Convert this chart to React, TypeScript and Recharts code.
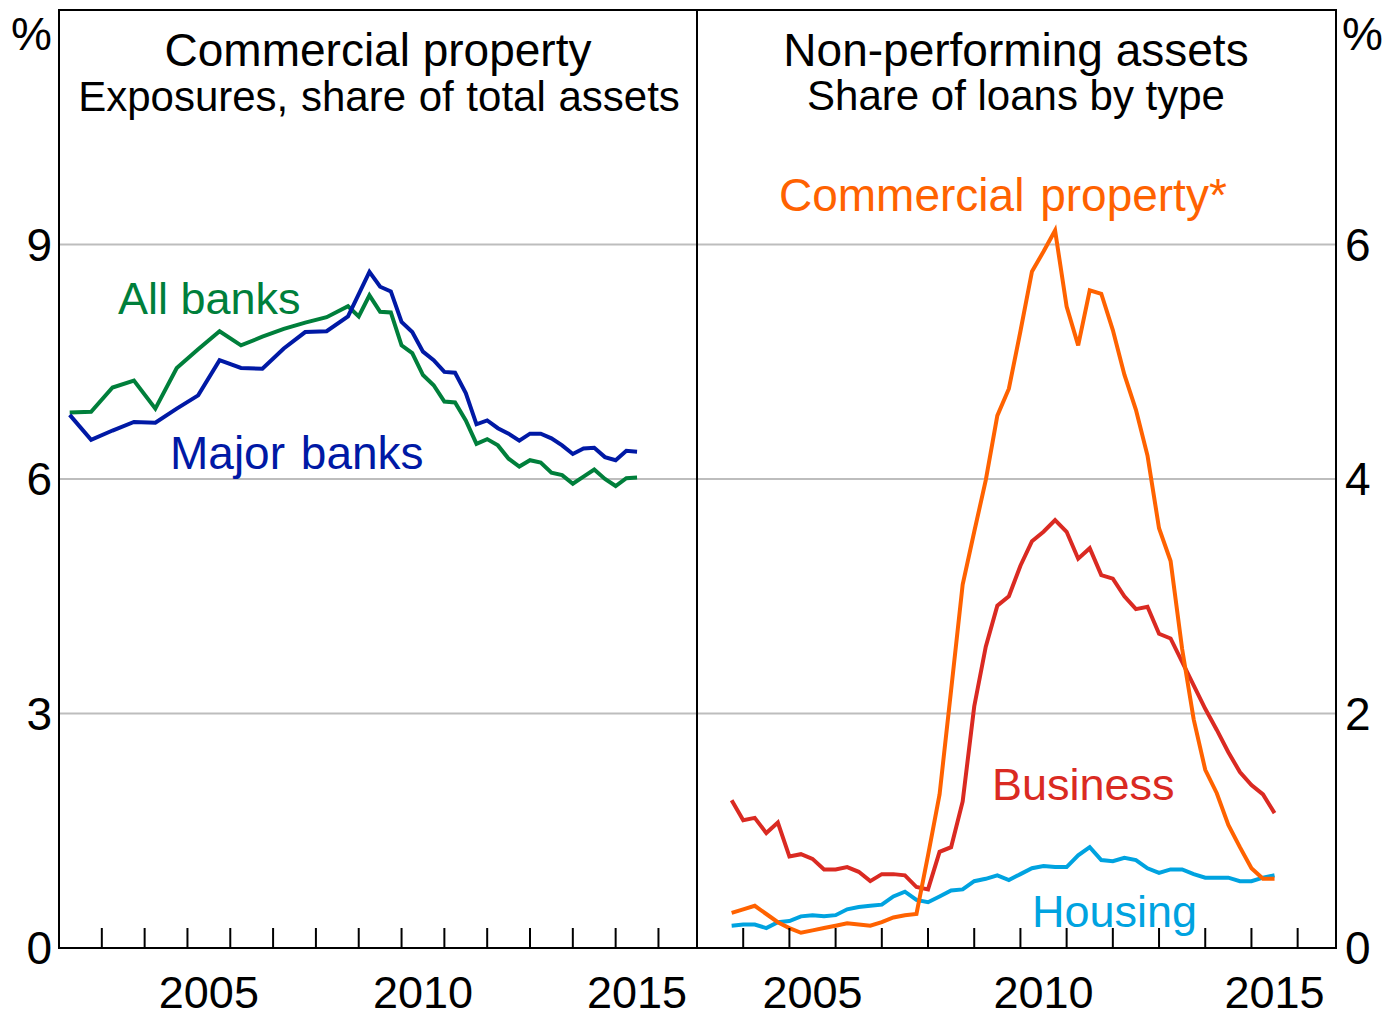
import React from "react";
import { CartesianGrid, Line, LineChart, XAxis, YAxis } from "recharts";

// Left panel: commercial property exposures, % of total assets
const leftDates = [
  2002.25, 2002.75, 2003.25, 2003.75, 2004.25, 2004.75, 2005.25, 2005.75, 2006.25, 2006.75,
  2007.25, 2007.75, 2008.25, 2008.75, 2009, 2009.25, 2009.5, 2009.75, 2010, 2010.25,
  2010.5, 2010.75, 2011, 2011.25, 2011.5, 2011.75, 2012, 2012.25, 2012.5, 2012.75,
  2013, 2013.25, 2013.5, 2013.75, 2014, 2014.25, 2014.5, 2014.75, 2015, 2015.25, 2015.5,
];
const allBanks = [
  6.85, 6.86, 7.17, 7.26, 6.9, 7.42, 7.66, 7.89, 7.71, 7.82,
  7.92, 8.0, 8.07, 8.21, 8.08, 8.35, 8.14, 8.13, 7.71, 7.61,
  7.33, 7.2, 6.99, 6.98, 6.75, 6.45, 6.51, 6.43, 6.26, 6.16,
  6.24, 6.21, 6.08, 6.05, 5.94, 6.03, 6.12, 6.0, 5.91, 6.01, 6.02,
];
const majorBanks = [
  6.82, 6.5, 6.62, 6.73, 6.72, 6.9, 7.07, 7.52, 7.42, 7.41,
  7.67, 7.88, 7.89, 8.08, null, 8.65, 8.46, 8.4, 8.01, 7.88,
  7.63, 7.52, 7.37, 7.36, 7.1, 6.7, 6.75, 6.65, 6.58, 6.49,
  6.58, 6.58, 6.52, 6.43, 6.32, 6.39, 6.4, 6.28, 6.24, 6.36, 6.35,
];

// Right panel: non-performing assets, share of loans by type
const rightDates = [
  2003.75, 2004, 2004.25, 2004.5, 2004.75, 2005, 2005.25, 2005.5, 2005.75, 2006,
  2006.25, 2006.5, 2006.75, 2007, 2007.25, 2007.5, 2007.75, 2008, 2008.25, 2008.5,
  2008.75, 2009, 2009.25, 2009.5, 2009.75, 2010, 2010.25, 2010.5, 2010.75, 2011,
  2011.25, 2011.5, 2011.75, 2012, 2012.25, 2012.5, 2012.75, 2013, 2013.25, 2013.5,
  2013.75, 2014, 2014.25, 2014.5, 2014.75, 2015, 2015.25, 2015.5,
];
const commercialNpa = [
  0.3, 0.33, 0.36, 0.29, 0.22, 0.17, 0.13, 0.15, 0.17, 0.19,
  0.21, 0.2, 0.19, 0.22, 0.26, 0.28, 0.29, 0.79, 1.31, 2.2,
  3.1, 3.55, 3.99, 4.54, 4.77, 5.26, 5.77, 5.94, 6.12, 5.47,
  5.14, 5.61, 5.58, 5.27, 4.89, 4.59, 4.2, 3.58, 3.3, 2.55,
  1.95, 1.52, 1.32, 1.05, 0.86, 0.68, 0.59, 0.59,
];
const businessNpa = [
  1.26, 1.09, 1.11, 0.98, 1.07, 0.78, 0.8, 0.76, 0.67, 0.67,
  0.69, 0.65, 0.57, 0.63, 0.63, 0.62, 0.52, 0.5, 0.82, 0.86,
  1.25, 2.06, 2.57, 2.92, 3.0, 3.26, 3.47, 3.55, 3.65, 3.55,
  3.32, 3.41, 3.18, 3.15, 3.0, 2.89, 2.91, 2.68, 2.64, 2.44,
  2.24, 2.04, 1.86, 1.67, 1.5, 1.39, 1.31, 1.15,
];
const housingNpa = [
  0.19, 0.2, 0.2, 0.17, 0.22, 0.23, 0.27, 0.28, 0.27, 0.28,
  0.33, 0.35, 0.36, 0.37, 0.44, 0.48, 0.41, 0.39, 0.44, 0.49,
  0.5, 0.57, 0.59, 0.62, 0.58, 0.63, 0.68, 0.7, 0.69, 0.69,
  0.79, 0.86, 0.75, 0.74, 0.77, 0.75, 0.68, 0.64, 0.67, 0.67,
  0.63, 0.6, 0.6, 0.6, 0.57, 0.57, 0.6, 0.62,
];

const leftTicks = [2003, 2004, 2005, 2006, 2007, 2008, 2009, 2010, 2011, 2012, 2013, 2014, 2015, 2016, 2005.5, 2010.5, 2015.5];
const rightTicks = [2004, 2005, 2006, 2007, 2008, 2009, 2010, 2011, 2012, 2013, 2014, 2015, 2016, 2005.5, 2010.5, 2015.5];
const leftYTicks = [0, 3, 6, 9];
const rightYTicks = [0, 2, 4, 6];

const leftData = leftDates.map((t, i) => ({ t, all: allBanks[i], major: majorBanks[i] }));
const rightData = rightDates.map((t, i) => ({
  t,
  commercial: commercialNpa[i],
  business: businessNpa[i],
  housing: housingNpa[i],
}));

const FONT = "'Liberation Sans', Arial, sans-serif";
const GREEN = "#007F3B";
const BLUE = "#0019A5";
const ORANGE = "#FF6200";
const RED = "#DA2A22";
const LIGHTBLUE = "#00A3E0";

// integer years get an inward tick mark, mid-years carry the label
const YearTick = (props: any) => {
  const { x, y, payload } = props;
  const v = payload.value;
  if (Number.isInteger(v)) {
    return <line x1={x} x2={x} y1={y} y2={y - 20} stroke="#000" strokeWidth={2} />;
  }
  return (
    <text x={x} y={y + 60} textAnchor="middle" fontSize={45} fill="#000" fontFamily={FONT}>
      {Math.floor(v)}
    </text>
  );
};

const yTick = { fontSize: 46, fill: "#000", fontFamily: FONT };

export default function App() {
  return (
    <div style={{ position: "absolute", left: 0, top: 0, width: 1387, height: 1018, fontFamily: FONT, background: "#fff" }}>
      <div style={{ position: "absolute", left: 0, top: 0 }}>
        <LineChart width={697} height={1018} data={leftData} margin={{ top: 10, right: 0, bottom: 0, left: 0 }}>
          <CartesianGrid horizontal vertical={false} stroke="#BDBDBD" strokeWidth={2} />
          <XAxis
            dataKey="t"
            type="number"
            domain={[2002, 2016.9]}
            allowDataOverflow
            ticks={leftTicks}
            interval={0}
            height={70}
            tickSize={0}
            tickMargin={0}
            axisLine={false}
            tickLine={false}
            tick={<YearTick />}
          />
          <YAxis
            domain={[0, 12]}
            ticks={leftYTicks}
            width={59}
            tickSize={0}
            tickMargin={7}
            axisLine={false}
            tickLine={false}
            tick={yTick}
          />
          <Line type="linear" dataKey="all" stroke={GREEN} strokeWidth={4} dot={false} isAnimationActive={false} />
          <Line type="linear" dataKey="major" stroke={BLUE} strokeWidth={4} dot={false} connectNulls isAnimationActive={false} />
        </LineChart>
      </div>
      <div style={{ position: "absolute", left: 697, top: 0 }}>
        <LineChart width={690} height={1018} data={rightData} margin={{ top: 10, right: 0, bottom: 0, left: 0 }}>
          <CartesianGrid horizontal vertical={false} stroke="#BDBDBD" strokeWidth={2} />
          <XAxis
            dataKey="t"
            type="number"
            domain={[2003, 2016.83]}
            allowDataOverflow
            ticks={rightTicks}
            interval={0}
            height={70}
            tickSize={0}
            tickMargin={0}
            axisLine={false}
            tickLine={false}
            tick={<YearTick />}
          />
          <YAxis
            orientation="right"
            domain={[0, 8]}
            ticks={rightYTicks}
            width={51}
            tickSize={0}
            tickMargin={9}
            axisLine={false}
            tickLine={false}
            tick={yTick}
          />
          <Line type="linear" dataKey="housing" stroke={LIGHTBLUE} strokeWidth={4} dot={false} isAnimationActive={false} />
          <Line type="linear" dataKey="business" stroke={RED} strokeWidth={4} dot={false} isAnimationActive={false} />
          <Line type="linear" dataKey="commercial" stroke={ORANGE} strokeWidth={4} dot={false} isAnimationActive={false} />
        </LineChart>
      </div>
      {/* frame and panel divider */}
      <div style={{ position: "absolute", left: 58, top: 9, width: 1279, height: 940, border: "2px solid #000", boxSizing: "border-box", pointerEvents: "none" }} />
      <div style={{ position: "absolute", left: 696, top: 10, width: 2, height: 938, background: "#000", pointerEvents: "none" }} />
      <svg width={1387} height={1018} style={{ position: "absolute", left: 0, top: 0, pointerEvents: "none" }} fontFamily={FONT}>
        <text x={11} y={50} fontSize={46} fill="#000">%</text>
        <text x={1342} y={50} fontSize={46} fill="#000">%</text>
        <text x={378} y={66} fontSize={46} textAnchor="middle" fill="#000">Commercial property</text>
        <text x={379} y={111} fontSize={42} textAnchor="middle" fill="#000" wordSpacing={1}>Exposures, share of total assets</text>
        <text x={1016} y={66} fontSize={46} textAnchor="middle" fill="#000">Non-performing assets</text>
        <text x={1016} y={110} fontSize={42} textAnchor="middle" fill="#000">Share of loans by type</text>
        <text x={118} y={314} fontSize={45} fill={GREEN}>All banks</text>
        <text x={170} y={469} fontSize={46} fill={BLUE} wordSpacing={3}>Major banks</text>
        <text x={779} y={211} fontSize={46} fill={ORANGE} wordSpacing={3}>Commercial property*</text>
        <text x={992} y={800} fontSize={45} fill={RED}>Business</text>
        <text x={1032} y={927} fontSize={45} fill={LIGHTBLUE}>Housing</text>
      </svg>
    </div>
  );
}
